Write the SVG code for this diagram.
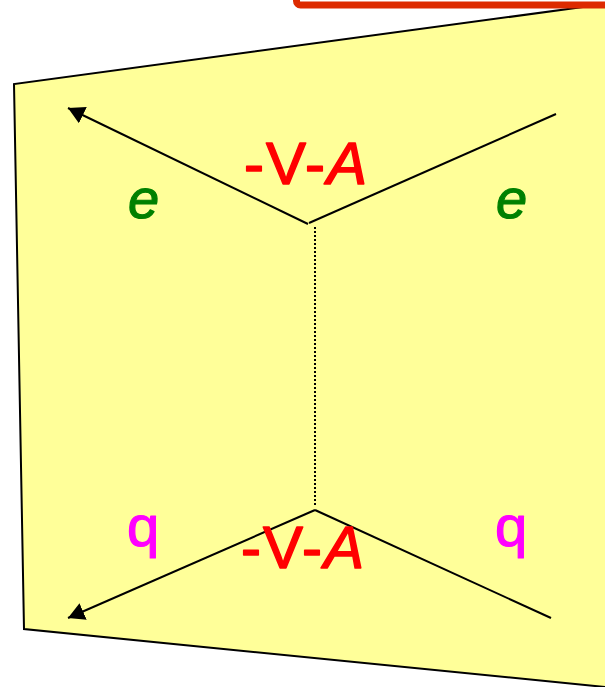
<svg xmlns="http://www.w3.org/2000/svg" width="605" height="687" viewBox="0 0 605 687">
<defs>
<marker id="arrow" markerUnits="userSpaceOnUse" markerWidth="19" markerHeight="19" refX="16.5" refY="9" orient="auto">
<path d="M0 0L16.5 9L0 18Z" fill="#000"/>
</marker>
<style>
.line{stroke:#000;stroke-width:2;fill:none}
.lbl{font-family:"Liberation Sans",Arial,sans-serif;stroke-linejoin:round;stroke-linecap:round}
.vertex{font-size:60px;fill:#ff0000;stroke:#ff0000;stroke-width:1.5}
.e{font-size:56px;fill:#008000;stroke:#008000;stroke-width:1.2;font-style:italic}
.q{font-size:58px;fill:#ff00ff;stroke:#ff00ff;stroke-width:1.2}
</style>
</defs>
<g id="frame">
<polygon points="14,84 605,4 605,687 24,629" fill="#ffff99" stroke="none"/>
<polyline points="605,4 14,84 24,629 605,687" class="line"/>
</g>
<g id="title-box">
<rect x="296.5" y="-20" width="330" height="25" rx="4" fill="none" stroke="#dd2a00" stroke-width="7"/>
</g>
<g id="connectors">
<line x1="308" y1="224" x2="68" y2="108" class="line" marker-end="url(#arrow)"/>
<line x1="309" y1="223" x2="556" y2="114" class="line"/>
<line x1="315" y1="227" x2="315" y2="505" stroke="#000" stroke-width="2" stroke-dasharray="2 2"/>
<line x1="315" y1="510" x2="68" y2="618" class="line" marker-end="url(#arrow)"/>
<line x1="315" y1="510" x2="551" y2="618" class="line"/>
</g>
<g id="label-top-vertex"><text x="244" y="184" textLength="123" lengthAdjust="spacing" class="lbl vertex">-V-<tspan font-style="italic">A</tspan></text></g>
<g id="label-bottom-vertex"><text x="241" y="568" textLength="123" lengthAdjust="spacing" class="lbl vertex">-V-<tspan font-style="italic">A</tspan></text></g>
<g id="label-e-left"><text x="128" y="218" class="lbl e">e</text></g>
<g id="label-e-right"><text x="496" y="218" class="lbl e">e</text></g>
<g id="label-q-left"><text x="127" y="546" class="lbl q">q</text></g>
<g id="label-q-right"><text x="495" y="546" class="lbl q">q</text></g>
</svg>
